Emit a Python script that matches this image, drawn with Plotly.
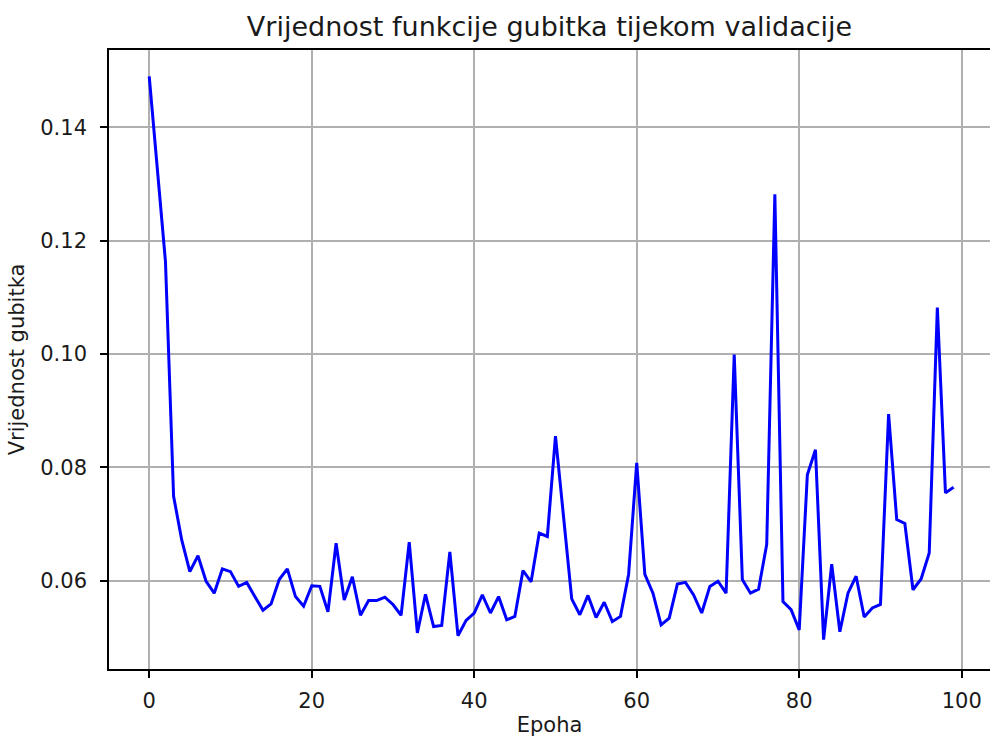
import plotly.graph_objects as go

epochs = list(range(100))
loss_values = [
    0.1490, 0.1327, 0.1163, 0.0749, 0.0672, 0.0616, 0.0644, 0.0599, 0.0578, 0.0621,
    0.0616, 0.0590, 0.0597, 0.0572, 0.0548, 0.0559, 0.0602, 0.0621, 0.0572, 0.0555,
    0.0591, 0.0590, 0.0545, 0.0666, 0.0566, 0.0607, 0.0539, 0.0565, 0.0565, 0.0571,
    0.0558, 0.0539, 0.0668, 0.0508, 0.0576, 0.0519, 0.0521, 0.0651, 0.0503, 0.0530,
    0.0543, 0.0575, 0.0543, 0.0572, 0.0531, 0.0537, 0.0618, 0.0598, 0.0684, 0.0678,
    0.0855, 0.0712, 0.0568, 0.0540, 0.0574, 0.0535, 0.0562, 0.0528, 0.0537, 0.0611,
    0.0808, 0.0611, 0.0578, 0.0522, 0.0534, 0.0594, 0.0597, 0.0575, 0.0543, 0.0590,
    0.0599, 0.0578, 0.0999, 0.0602, 0.0578, 0.0585, 0.0664, 0.1282, 0.0563, 0.0549,
    0.0513, 0.0787, 0.0831, 0.0496, 0.0629, 0.0510, 0.0578, 0.0608, 0.0536, 0.0552,
    0.0558, 0.0894, 0.0708, 0.0701, 0.0584, 0.0603, 0.0649, 0.1082, 0.0755, 0.0765,
]

x_ticks = [0, 20, 40, 60, 80, 100]
x_tick_labels = ["0", "20", "40", "60", "80", "100"]
y_ticks = [0.06, 0.08, 0.10, 0.12, 0.14]
y_tick_labels = ["0.06", "0.08", "0.10", "0.12", "0.14"]

title_text = "Vrijednost funkcije gubitka tijekom validacije"
x_label = "Epoha"
y_label = "Vrijednost gubitka"

FONT = "DejaVu Sans"
TXT = "#1a1a1a"

fig = go.Figure()
fig.add_trace(go.Scatter(
    x=epochs, y=loss_values, mode="lines",
    line=dict(color="#0000ff", width=3),
    showlegend=False,
))

axis_common = dict(
    showgrid=True, gridcolor="#b0b0b0", gridwidth=1.6,
    showline=True, linecolor="black", linewidth=1.6,
    ticks="outside", ticklen=7, tickwidth=1.6, tickcolor="black",
    tickfont=dict(family=FONT, size=21, color=TXT),
    zeroline=False, automargin=False,
)

fig.update_layout(
    width=990, height=737,
    margin=dict(l=109, r=0, t=50, b=68),
    paper_bgcolor="white", plot_bgcolor="white",
    title=dict(
        text=title_text, x=0.5, xref="paper", xanchor="center",
        y=1 - 27 / 737, yref="container", yanchor="middle",
        font=dict(family=FONT, size=27, color=TXT),
    ),
    xaxis=dict(
        range=[-4.95, 103.48], tickvals=x_ticks, ticktext=x_tick_labels,
        mirror=True,
        title=dict(text=x_label, font=dict(family=FONT, size=21, color=TXT), standoff=8),
        ticklabelstandoff=5,
        **axis_common,
    ),
    yaxis=dict(
        range=[0.04442, 0.15364], tickvals=y_ticks, ticktext=y_tick_labels,
        mirror=False,
        title=dict(text=y_label, font=dict(family=FONT, size=21, color=TXT), standoff=10),
        ticklabelstandoff=9,
        **axis_common,
    ),
)

fig.write_html(
    "out.html",
    config={"displayModeBar": False},
    post_script="document.body.style.margin='0';document.body.style.overflow='hidden';",
)
